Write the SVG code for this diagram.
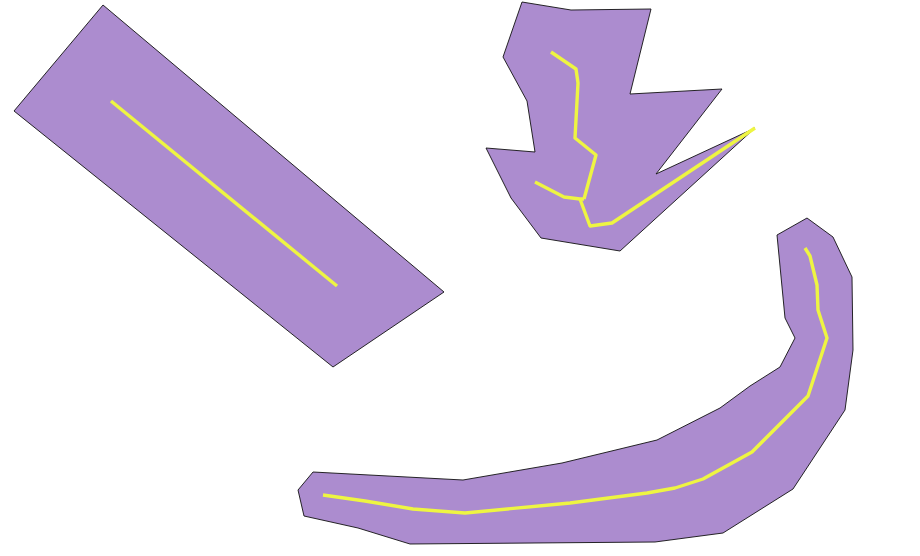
<svg xmlns="http://www.w3.org/2000/svg" width="920" height="556" viewBox="0 0 920 556">
<style>
.area{fill:#ac8ccf;stroke:#111111;stroke-width:0.9;stroke-linejoin:miter}
.axis{fill:none;stroke:#eef542;stroke-width:3.4;stroke-linejoin:round;stroke-linecap:butt}
</style>
<rect width="920" height="556" fill="#ffffff"/>
<g id="shape-rect">
<polygon class="area" points="103,5 14,111 333,367 444,292"/>
<polyline class="axis" points="111,101 337,286"/>
</g>
<g id="shape-star">
<polygon class="area" points="522,2 571,10 651,9 630,94 722,89 656,174 755,128 620,251 541,238 511,198 486,148 535,152 527,101 503,57"/>
<polyline class="axis" points="551,52 576,69 578,83 575,138 596,155 584,199"/>
<polyline class="axis" points="535,182 564,197 580,199 584,199"/>
<polyline class="axis" points="580,199 590,226 612,223 755,128"/>
</g>
<g id="shape-banana">
<polygon class="area" points="807,218 833,237 852,277 853,350 845,410 793,489 723,533 655,542 410,544 358,528 304,516 298,490 313,472 463,480 562,463 657,440 720,408 750,386 780,367 795,338 785,318 777,235"/>
<polyline class="axis" points="323,495 365,501 413,509 465,513 570,503 647,493 675,488 703,479 752,452 808,396 827,338 818,310 817,285 810,256 805,248"/>
</g>
</svg>
